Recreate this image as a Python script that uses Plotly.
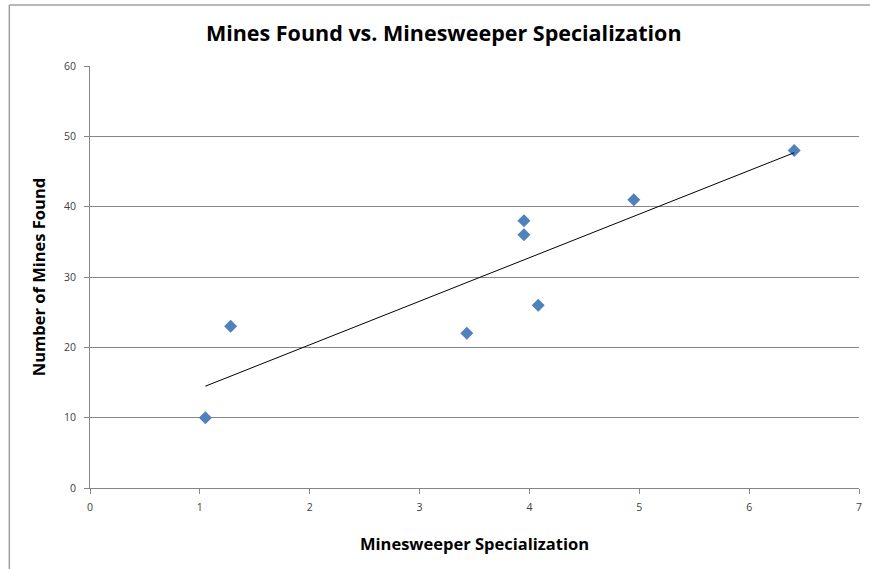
import numpy as np
import plotly.graph_objs as go

# Data
specialization = [1.05, 1.28, 3.43, 3.95, 3.95, 4.08, 4.95, 6.41]
mines_found = [10, 23, 22, 38, 36, 26, 41, 48]
x_ticks = [0, 1, 2, 3, 4, 5, 6, 7]
y_ticks = [0, 10, 20, 30, 40, 50, 60]

# Linear trendline (least squares), drawn over the data's x range
slope, intercept = np.polyfit(specialization, mines_found, 1)
trend_x = [min(specialization), max(specialization)]
trend_y = [slope * v + intercept for v in trend_x]

font_family = "Open Sans, Noto Sans, DejaVu Sans, sans-serif"

fig = go.Figure()

fig.add_trace(go.Scatter(
    x=specialization,
    y=mines_found,
    mode='markers',
    marker=dict(symbol='diamond', size=10, color='#4F81BD'),
    name='Mines Found',
    showlegend=False
))

fig.add_trace(go.Scatter(
    x=trend_x,
    y=trend_y,
    mode='lines',
    line=dict(color='black', width=1),
    name='Linear trend',
    showlegend=False
))

fig.update_layout(
    width=870,
    height=569,
    paper_bgcolor='white',
    plot_bgcolor='white',
    margin=dict(l=90, r=8, t=66, b=81),
    title=dict(
        text='<b>Mines Found vs. Minesweeper Specialization</b>',
        x=0.51, xanchor='center',
        y=1 - 33 / 569, yanchor='middle',
        font=dict(family=font_family, size=21.5, color='black')
    ),
    xaxis=dict(
        range=[0, 7],
        tickvals=x_ticks,
        showgrid=False,
        zeroline=False,
        showline=True, linecolor='#868686', linewidth=1,
        ticks='outside', ticklen=5, tickcolor='#868686',
        ticklabelstandoff=4,
        tickfont=dict(family=font_family, size=10.5, color='#404040'),
        title=dict(text='<b>Minesweeper Specialization</b>', standoff=25,
                   font=dict(family=font_family, size=16.5, color='black'))
    ),
    yaxis=dict(
        range=[0, 60],
        tickvals=y_ticks,
        showgrid=True, gridcolor='#868686', gridwidth=1,
        zeroline=False,
        showline=True, linecolor='#868686', linewidth=1,
        ticks='outside', ticklen=5, tickcolor='#868686',
        ticklabelstandoff=6,
        tickfont=dict(family=font_family, size=10.5, color='#404040'),
        title=dict(text='<b>Number of Mines Found</b>', standoff=14,
                   font=dict(family=font_family, size=16.5, color='black'))
    ),
    shapes=[
        # outer chart border (top and left edges)
        dict(type='line', xref='paper', yref='paper',
             x0=(9 - 90) / 772, x1=1.02, y0=(488 - 5) / 422, y1=(488 - 5) / 422,
             line=dict(color='#A0A0A0', width=1.5)),
        dict(type='line', xref='paper', yref='paper',
             x0=(9 - 90) / 772, x1=(9 - 90) / 772, y0=(488 - 5) / 422, y1=-0.2,
             line=dict(color='#A0A0A0', width=1.5)),
    ]
)

# the page body has a default 8px margin; drop it so the chart sits at the window's corner
fig.write_html("out.html", config={'displayModeBar': False},
               post_script="document.body.style.margin='0';")
